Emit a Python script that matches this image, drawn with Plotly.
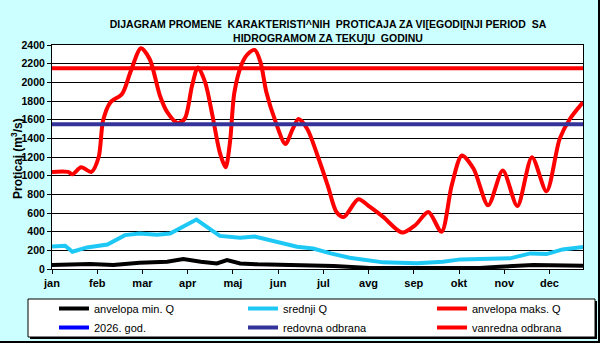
import plotly.graph_objects as go

# ---------------- data ----------------
months = ["jan", "feb", "mar", "apr", "maj", "jun", "jul", "avg", "sep", "okt", "nov", "dec"]
month_ticks = [1, 32, 63, 94, 125, 156, 187, 218, 249, 280, 311, 342]

max_days = [1, 12, 15, 21, 28, 33, 36, 41, 49, 55, 62, 68, 75, 80, 87, 92, 97, 101, 106, 111,
            116, 120, 123, 126, 131, 135, 140, 144, 148, 154, 161, 166, 170, 176, 183, 190,
            196, 201, 211, 219, 228, 241, 250, 259, 268, 275, 282, 290, 300, 310, 320, 330,
            340, 349, 356, 365]
max_q = [1040, 1040, 1015, 1090, 1040, 1200, 1590, 1785, 1875, 2120, 2365, 2247, 1856, 1680,
         1565, 1610, 1963, 2160, 2000, 1643, 1250, 1090, 1358, 1890, 2194, 2300, 2347, 2211,
         1890, 1590, 1340, 1500, 1607, 1500, 1216, 896, 611, 558, 747, 665, 558, 390, 469,
         611, 398, 896, 1216, 1074, 683, 1056, 675, 1198, 832, 1394, 1607, 1785]

mean_days = [1, 10, 15, 25, 39, 51, 61, 73, 82, 100, 116, 130, 140, 155, 169, 180, 192, 205,
             217, 228, 251, 269, 281, 301, 315, 329, 340, 351, 365]
mean_q = [240, 249, 185, 231, 263, 363, 380, 366, 380, 530, 355, 334, 348, 291, 238, 220, 167,
          121, 96, 71, 62, 78, 103, 107, 114, 167, 160, 210, 235]

min_days = [1, 27, 43, 61, 80, 91, 103, 114, 121, 130, 142, 176, 194, 219, 294, 308, 331, 365]
min_q = [43, 53, 43, 67, 78, 107, 78, 60, 96, 60, 50, 43, 32, 12, 12, 25, 43, 36]

year_days = [None]
year_q = [None]

regular_defence = 1550
emergency_defence = 2150
first_day, last_day = 1, 365

# ---------------- figure ----------------
W, H = 600, 343
ML, MR, MT, MB = 52, 17, 45, 74
PW, PH = W - ML - MR, H - MT - MB

def px(xp):
    return (xp - ML) / PW

def py(yp):
    return (H - MB - yp) / PH

FONT = "Arial, Liberation Sans, sans-serif"

fig = go.Figure()
fig.add_trace(go.Scatter(x=min_days, y=min_q, mode="lines", name="anvelopa min. Q",
                         line=dict(color="black", width=4), legend="legend"))
fig.add_trace(go.Scatter(x=mean_days, y=mean_q, mode="lines", name="srednji Q",
                         line=dict(color="#1EC8F5", width=4), legend="legend2"))
fig.add_trace(go.Scatter(x=max_days, y=max_q, mode="lines", name="anvelopa maks. Q",
                         line=dict(color="#FF0000", width=4, shape="spline", smoothing=0.8),
                         legend="legend3"))
fig.add_trace(go.Scatter(x=year_days, y=year_q, mode="lines", name="2026. god.",
                         line=dict(color="#0000FF", width=4), legend="legend",
                         showlegend=True))
fig.add_trace(go.Scatter(x=[first_day, last_day], y=[regular_defence] * 2, mode="lines",
                         name="redovna odbrana", line=dict(color="#333399", width=4),
                         legend="legend2"))
fig.add_trace(go.Scatter(x=[first_day, last_day], y=[emergency_defence] * 2, mode="lines",
                         name="vanredna odbrana", line=dict(color="#FF0000", width=4),
                         legend="legend3"))

leg_common = dict(bgcolor="rgba(0,0,0,0)", borderwidth=0, xanchor="left", yanchor="top",
                  orientation="v", tracegroupgap=0, itemwidth=30,
                  font=dict(family=FONT, size=11, color="black"), y=py(294))

shapes = [
    # legend shadow and box
    dict(type="rect", xref="paper", yref="paper", x0=px(30), x1=px(597), y0=py(339), y1=py(301),
         fillcolor="black", line=dict(width=0), layer="above"),
    dict(type="rect", xref="paper", yref="paper", x0=px(28), x1=px(595), y0=py(337), y1=py(299),
         fillcolor="white", line=dict(color="black", width=1), layer="above"),
    # outer right / bottom edge
    dict(type="line", xref="paper", yref="paper", x0=px(599), x1=px(599), y0=py(0), y1=py(343),
         line=dict(color="black", width=2), layer="above"),
    dict(type="line", xref="paper", yref="paper", x0=px(0), x1=px(600), y0=py(342), y1=py(342),
         line=dict(color="black", width=2), layer="above"),
]

fig.update_layout(
    width=W, height=H, autosize=False,
    margin=dict(l=ML, r=MR, t=MT, b=MB, pad=0, autoexpand=False),
    paper_bgcolor="#CCFFFF", plot_bgcolor="white",
    title=dict(text="DIJAGRAM PROMENE\u00a0 KARAKTERISTI^NIH\u00a0 PROTICAJA ZA VI[EGODI[NJI PERIOD\u00a0 SA"
                    "<br>HIDROGRAMOM ZA TEKU]U\u00a0 GODINU",
               xref="paper", x=px(328), xanchor="center",
               yref="container", y=1 - 28 / H, yanchor="top",
               font=dict(family=FONT, size=10.5, color="black", weight="bold")),
    xaxis=dict(range=[first_day, last_day], tickmode="array", tickvals=month_ticks, ticktext=months,
               ticks="outside", ticklen=4, tickcolor="black", showgrid=False, zeroline=False,
               showline=True, linecolor="black", linewidth=1, mirror=True,
               tickfont=dict(family=FONT, size=11, color="black", weight="bold")),
    yaxis=dict(range=[0, 2400], dtick=200, ticks="outside", ticklen=4, tickcolor="black",
               showgrid=True, gridcolor="black", gridwidth=1, zeroline=False,
               showline=True, linecolor="black", linewidth=1, mirror=True,
               tickfont=dict(family=FONT, size=10.5, color="black", weight="bold")),
    legend=dict(**leg_common, x=px(54)),
    legend2=dict(**leg_common, x=px(243)),
    legend3=dict(**leg_common, x=px(432)),
    shapes=shapes,
    annotations=[dict(text="Proticaj (m<sup>3</sup>/s)", xref="paper", yref="paper",
                      x=px(17), y=py(159), textangle=-90, showarrow=False,
                      xanchor="center", yanchor="middle",
                      font=dict(family=FONT, size=12, color="black", weight="bold"))],
)

fig.write_html("out.html")
